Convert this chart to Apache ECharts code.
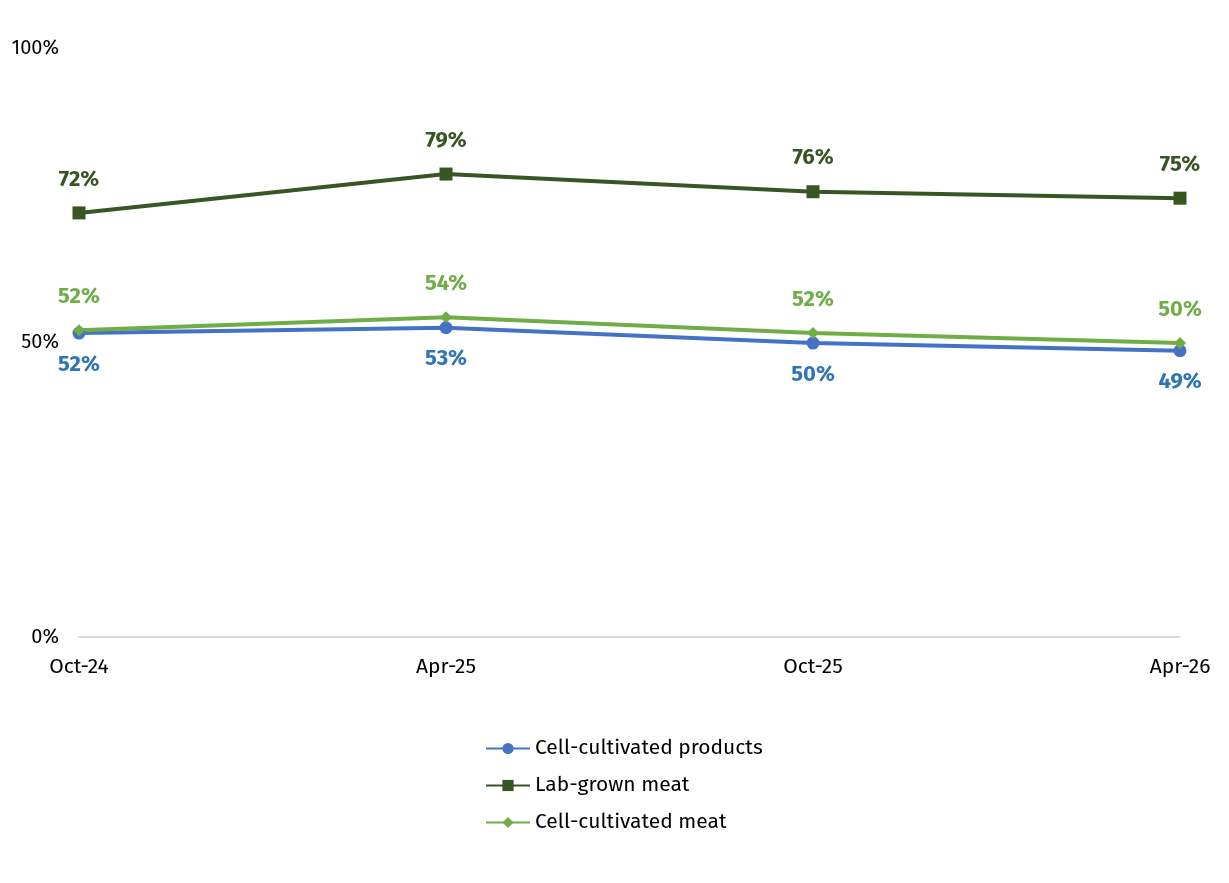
<!DOCTYPE html>
<html><head><meta charset="utf-8">
<script src="https://cdn.jsdelivr.net/npm/echarts@6/dist/echarts.min.js"></script>
<style>html,body{margin:0;padding:0;background:#fff}#c{width:1229px;height:883px}</style>
</head><body><div id="c"></div>
<script>
const categories = ['Oct-24','Apr-25','Oct-25','Apr-26'];
const cellProducts = [51.6, 52.5, 49.9, 48.6];
const labGrown = [72.0, 78.6, 75.6, 74.5];
const cellMeat = [52.1, 54.3, 51.6, 49.9];
const yTicks = [0, 50, 100];
const F = 'Fira Sans, Noto Sans, sans-serif';
function s(name, data, color, symbol, labelColor, pos) {
  return {name, type:'line', data, symbol, symbolSize: symbol==='diamond'?12:13,
    lineStyle:{color, width:4}, itemStyle:{color},
    label:{show:true, position:pos, distance: pos==='top'?16:14, color:labelColor, fontFamily:F, fontWeight:'bold', fontSize:22,
      formatter:p=>Math.round(p.value)+'%'}};
}
const chart = echarts.init(document.getElementById('c'));
chart.setOption({
  animation:false,
  grid:{left:79, right:49, top:48, bottom:246},
  xAxis:{type:'category', data:categories, boundaryGap:false,
    axisLine:{lineStyle:{color:'#d0d0d0', width:1.5}}, axisTick:{show:false},
    axisLabel:{color:'#000', fontFamily:F, fontSize:21, margin:20, interval:0,
      formatter:(v,i)=>v}},
  yAxis:{type:'value', min:0, max:100, interval:50, splitLine:{show:false},
    axisLine:{show:false}, axisTick:{show:false},
    axisLabel:{color:'#000', fontFamily:F, fontSize:20, inside:false, margin:20,
      verticalAlign:'middle', formatter:v=>yTicks.includes(v)?v+'%':''}},
  legend:{orient:'vertical', left:480, top:733, itemGap:16, itemWidth:44, itemHeight:14,
    textStyle:{fontFamily:F, fontSize:21, color:'#000'},
    data:['Cell-cultivated products','Lab-grown meat','Cell-cultivated meat']},
  series:[
    s('Cell-cultivated products', cellProducts, '#4472C4', 'circle', '#2E75B6', 'bottom'),
    s('Lab-grown meat', labGrown, '#375623', 'rect', '#375623', 'top'),
    s('Cell-cultivated meat', cellMeat, '#70AD47', 'diamond', '#70AD47', 'top')
  ]
});
</script></body></html>
